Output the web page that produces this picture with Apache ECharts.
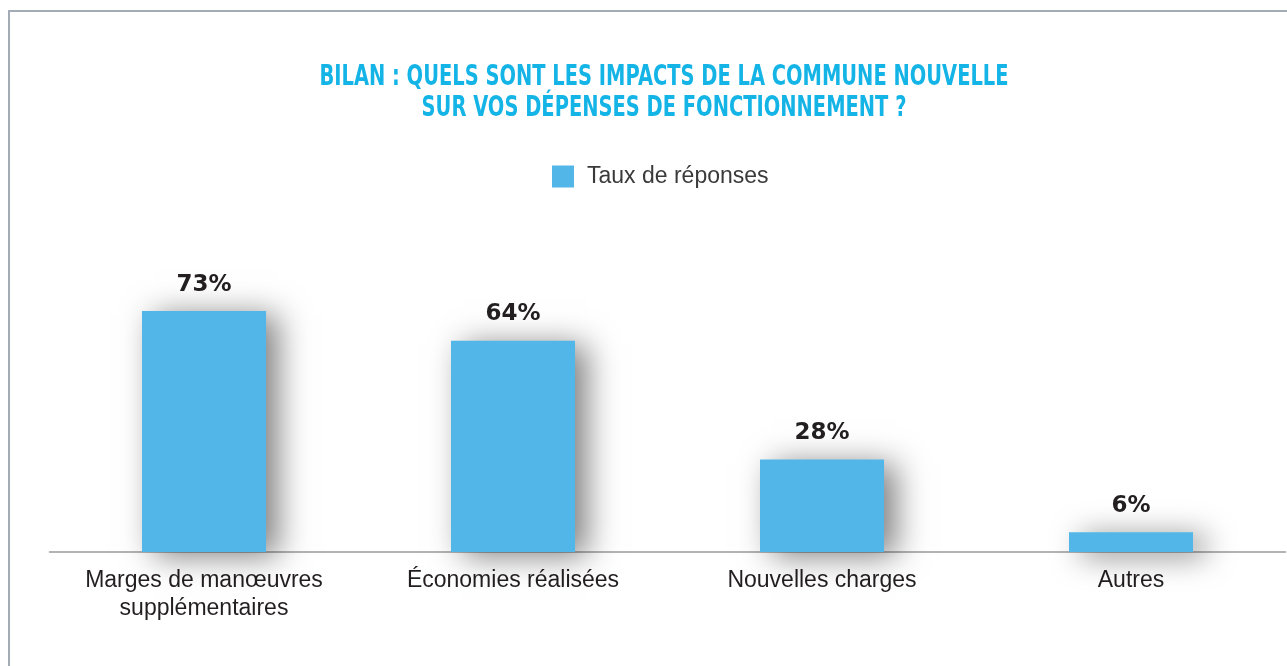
<!DOCTYPE html>
<html><head><meta charset="utf-8">
<script src="https://cdn.jsdelivr.net/npm/echarts@6/dist/echarts.min.js"></script>
<style>html,body{margin:0;padding:0;background:#fff}#c{width:1287px;height:666px}</style>
</head><body><div id="c"></div>
<script>
const categories = ["Marges de manœuvres\nsupplémentaires", "Économies réalisées", "Nouvelles charges", "Autres"];
const values = [73, 64, 28, 6];
const seriesName = "Taux de réponses";
const titleText = "BILAN : QUELS SONT LES IMPACTS DE LA COMMUNE NOUVELLE\nSUR VOS DÉPENSES DE FONCTIONNEMENT ?";

const chart = echarts.init(document.getElementById('c'), null, {renderer: 'canvas'});
chart.setOption({
  animation: false,
  backgroundColor: '#fff',
  legend: {
    data: [seriesName],
    top: 160,
    left: 547,
    itemWidth: 22, itemHeight: 22, itemGap: 13,
    icon: 'rect',
    textStyle: {fontFamily: '"Liberation Sans", sans-serif', fontSize: 23, color: '#3a3a3a', padding: [0, 0, 0, 8]}
  },
  graphic: [
    {type: 'rect', shape: {x: 9, y: 11, width: 1400, height: 800}, style: {fill: 'none', stroke: '#a3acb4', lineWidth: 2}, silent: true, z: 100},
    {type: 'text', x: 664, y: 62, scaleX: 0.695, silent: true,
     style: {text: titleText, x: 0, y: 0, textAlign: 'center', textVerticalAlign: 'top',
             font: 'bold 28px "DejaVu Sans", sans-serif', fill: '#14b4e6', lineHeight: 31}}
  ],
  grid: {left: 49.5, right: 1.5, top: 222, bottom: 114, containLabel: false},
  xAxis: {
    type: 'category', data: categories,
    axisLine: {lineStyle: {color: '#9a9a9a', width: 1.5}},
    axisTick: {show: false},
    axisLabel: {interval: 0, fontFamily: '"Liberation Sans", sans-serif', fontSize: 23, color: '#231f20', lineHeight: 28, margin: 15}
  },
  yAxis: {type: 'value', min: 0, max: 100, show: false, splitLine: {show: false}},
  series: [{
    name: seriesName, type: 'bar', data: values, barWidth: 124,
    itemStyle: {color: '#52b7e8', shadowColor: 'rgba(0,0,0,0.5)', shadowBlur: 30, shadowOffsetX: 12, shadowOffsetY: 4},
    label: {show: true, position: 'top', distance: 15, formatter: '{c}%', fontFamily: '"DejaVu Sans", sans-serif', fontWeight: 'bold', fontSize: 23, color: '#231f20'}
  }]
});
</script></body></html>
